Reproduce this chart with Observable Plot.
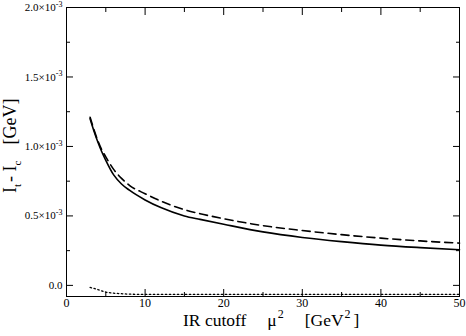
<!DOCTYPE html>
<html>
<head>
<meta charset="utf-8">
<script src="https://cdn.jsdelivr.net/npm/d3@7"></script>
<script src="https://cdn.jsdelivr.net/npm/@observablehq/plot@0.6"></script>
<style>
  html, body { margin: 0; padding: 0; background: #fff; }
  #chart svg { display: block; }
  #chart svg, #chart svg text { font-family: "Liberation Serif", "DejaVu Serif", serif !important; }
</style>
</head>
<body>
<div id="chart"></div>
<script>
// IR cutoff mu^2 [GeV^2]
const mu2 = [3, 3.5, 4, 4.5, 5, 6, 7, 8, 10, 12, 15, 17, 20, 25, 30, 35, 40, 45, 50];
// I_t - I_c [GeV], in units of 1e-3
const solidVals  = [1.20, 1.11, 1.03, 0.96, 0.90, 0.795, 0.73, 0.685, 0.615, 0.56, 0.50, 0.475, 0.44, 0.385, 0.345, 0.315, 0.29, 0.272, 0.257];
const dashedVals = [1.21, 1.12, 1.04, 0.975, 0.925, 0.835, 0.77, 0.72, 0.66, 0.607, 0.545, 0.516, 0.48, 0.43, 0.395, 0.365, 0.34, 0.32, 0.304];
const dottedVals = [-0.015, -0.022, -0.03, -0.04, -0.048, -0.056, -0.06, -0.063, -0.065, -0.065, -0.065, -0.065, -0.065, -0.065, -0.065, -0.065, -0.065, -0.065, -0.065];

const xMajor = [0, 10, 20, 30, 40, 50];
const xMinor = [5, 15, 25, 35, 45];
const yMajor = [0, 0.5e-3, 1.0e-3, 1.5e-3, 2.0e-3];
const yMinor = [0.25e-3, 0.75e-3, 1.25e-3, 1.75e-3];
const yLabels = ["0.0", "0.5", "1.0", "1.5", "2.0"];

const rows = (vals) => mu2.map((m, i) => ({x: m, y: vals[i] * 1e-3}));

const FONT = '"Liberation Serif", "DejaVu Serif", serif';
const blank = () => "";
const chart = Plot.plot({
  width: 466,
  height: 336,
  marginLeft: 66,
  marginRight: 7,
  marginTop: 7,
  marginBottom: 40,
  style: {fontFamily: FONT, fontSize: "11px", color: "#000", background: "#fff"},
  x: {domain: [0, 50]},
  y: {domain: [-0.08e-3, 2.0e-3]},
  marks: [
    Plot.line(rows(solidVals), {x: "x", y: "y", stroke: "#000", strokeWidth: 1.6, curve: "monotone-x"}),
    Plot.line(rows(dashedVals), {x: "x", y: "y", stroke: "#000", strokeWidth: 1.6, strokeDasharray: "8,5", curve: "monotone-x"}),
    Plot.line(rows(dottedVals), {x: "x", y: "y", stroke: "#000", strokeWidth: 1.3, strokeDasharray: "1.5,2.5", curve: "monotone-x"}),
    Plot.frame({stroke: "#000", strokeWidth: 1}),
    // bottom axis
    Plot.axisX({anchor: "bottom", ticks: xMajor, tickSize: -7, tickPadding: 9, tickFormat: d => String(d), label: null, fontSize: 12}),
    Plot.axisX({anchor: "bottom", ticks: xMinor, tickSize: -4, tickFormat: blank, label: null}),
    // top axis
    Plot.axisX({anchor: "top", ticks: xMajor, tickSize: -7, tickFormat: blank, label: null}),
    Plot.axisX({anchor: "top", ticks: xMinor, tickSize: -4, tickFormat: blank, label: null}),
    // left axis
    Plot.axisY({anchor: "left", ticks: yMajor, tickSize: -7, tickPadding: 11, tickFormat: (d, i) => yLabels[i], label: null, fontSize: 11}),
    Plot.axisY({anchor: "left", ticks: yMinor, tickSize: -4, tickFormat: blank, label: null}),
    // right axis
    Plot.axisY({anchor: "right", ticks: yMajor, tickSize: -7, tickFormat: blank, label: null}),
    Plot.axisY({anchor: "right", ticks: yMinor, tickSize: -4, tickFormat: blank, label: null})
  ]
});

document.getElementById("chart").appendChild(chart);

const svg = d3.select(chart);
// add ×10^-3 exponent to non-zero y tick labels
svg.selectAll("g[aria-label='y-axis tick label'] text").each(function() {
  const t = d3.select(this);
  const s = t.text();
  if (s && s !== "0.0") {
    t.text(s + "\u00d710");
    t.append("tspan").attr("font-size", 8).attr("dy", "-0.55em").text("-3");
  }
});

// x axis title
const xt = svg.append("text")
  .attr("x", 183).attr("y", 326)
  .attr("text-anchor", "start")
  .attr("font-family", FONT)
  .attr("font-size", 17.5).attr("fill", "#000");
xt.append("tspan").text("IR cutoff");
xt.append("tspan").attr("dx", 21).text("\u03bc");
xt.append("tspan").attr("font-size", 12).attr("dx", 1).attr("dy", -8).text("2");
xt.append("tspan").attr("dx", 21).attr("dy", 8).text("[GeV");
xt.append("tspan").attr("font-size", 12).attr("dx", 1).attr("dy", -8).text("2");
xt.append("tspan").attr("dx", 3).attr("dy", 8).text("]");

// y axis title
const yt = svg.append("text")
  .attr("transform", "translate(16,193) rotate(-90)")
  .attr("text-anchor", "start")
  .attr("font-family", FONT)
  .attr("font-size", 18).attr("fill", "#000");
yt.append("tspan").text("I");
yt.append("tspan").attr("font-size", 11).attr("dy", 5).text("t");
yt.append("tspan").attr("dy", -5).attr("dx", 2).text("- I");
yt.append("tspan").attr("font-size", 11).attr("dy", 5).text("c");
yt.append("tspan").attr("dy", -5).attr("dx", 16).text("[GeV]");
</script>
</body>
</html>
